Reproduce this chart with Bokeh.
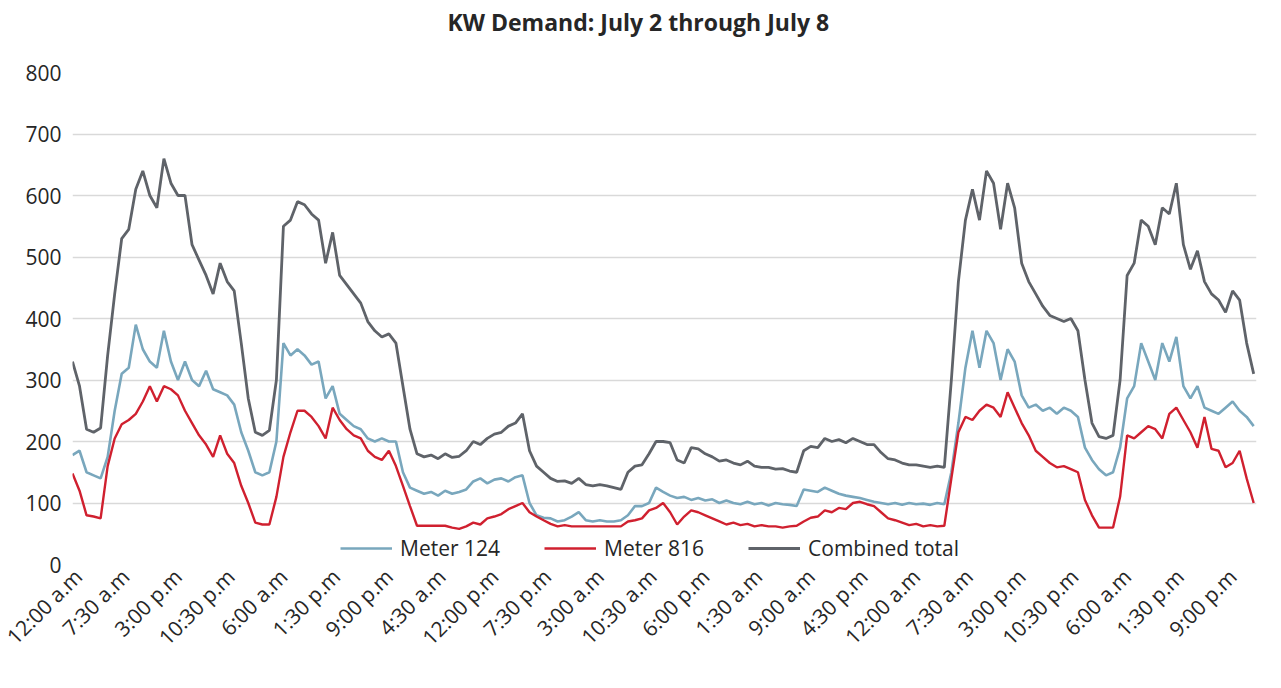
from math import pi
from bokeh.plotting import figure
from bokeh.models import Range1d, FixedTicker, Legend, LegendItem, ColumnDataSource
from bokeh.embed import file_html
from bokeh.resources import INLINE

# ---- data (hourly readings, hours since 12:00 a.m. July 2) ----
hours = list(range(169))

meter_124 = [
    178, 185, 150, 145, 140, 175, 250, 310, 320, 390, 350, 330,
    320, 380, 330, 300, 330, 300, 290, 315, 285, 280, 275, 260,
    215, 185, 150, 145, 150, 200, 360, 340, 350, 340, 325, 330,
    270, 290, 245, 235, 225, 220, 205, 200, 205, 200, 200, 150,
    125, 120, 115, 118, 112, 120, 115, 118, 122, 135, 140, 132,
    138, 140, 135, 142, 145, 100, 80, 76, 75, 70, 72, 78,
    85, 72, 70, 72, 70, 70, 72, 80, 95, 95, 100, 125,
    118, 112, 108, 110, 105, 108, 104, 106, 100, 104, 100, 98,
    102, 98, 100, 96, 100, 98, 97, 95, 122, 120, 118, 125,
    120, 115, 112, 110, 108, 105, 102, 100, 98, 100, 97, 100,
    98, 99, 97, 100, 98, 150, 230, 320, 380, 320, 380, 360,
    300, 350, 330, 275, 255, 260, 250, 255, 245, 255, 250, 240,
    190, 170, 155, 145, 150, 190, 270, 290, 360, 330, 300, 360,
    330, 370, 290, 270, 290, 255, 250, 245, 255, 265, 250, 240,
    225,
]

meter_816 = [
    148, 120, 80, 78, 75, 160, 205, 228, 235, 245, 265, 290,
    265, 290, 285, 275, 250, 230, 210, 195, 175, 210, 180, 165,
    128, 100, 68, 65, 65, 110, 175, 215, 250, 250, 240, 225,
    205, 255, 235, 220, 210, 205, 185, 175, 170, 185, 160, 128,
    95, 63, 63, 63, 63, 63, 60, 58, 62, 68, 65, 75,
    78, 82, 90, 95, 100, 85, 78, 72, 66, 62, 64, 62,
    62, 62, 62, 62, 62, 62, 62, 70, 72, 75, 88, 92,
    100, 85, 65, 78, 88, 85, 80, 75, 70, 65, 68, 64,
    66, 62, 64, 62, 62, 60, 62, 63, 70, 76, 78, 88,
    85, 92, 90, 100, 102, 98, 95, 85, 75, 72, 68, 64,
    66, 62, 64, 62, 63, 140, 215, 240, 235, 250, 260, 255,
    240, 280, 255, 230, 210, 185, 175, 165, 158, 160, 155, 150,
    105, 80, 60, 60, 60, 110, 210, 205, 215, 225, 220, 205,
    245, 255, 235, 215, 190, 240, 188, 185, 158, 165, 185, 140,
    100,
]

combined_total = [
    330, 290, 220, 215, 222, 340, 440, 530, 545, 610, 640, 600,
    580, 660, 620, 600, 600, 520, 495, 470, 440, 490, 460, 445,
    360, 270, 215, 210, 218, 300, 550, 560, 590, 585, 570, 560,
    490, 540, 470, 455, 440, 425, 395, 380, 370, 375, 360, 290,
    220, 180, 175, 178, 172, 180, 174, 176, 185, 200, 195, 205,
    212, 215, 225, 230, 245, 185, 160, 150, 140, 135, 136, 132,
    140, 130, 128, 130, 128, 125, 122, 150, 160, 162, 180, 200,
    200, 198, 170, 165, 190, 188, 180, 175, 168, 170, 165, 162,
    168, 160, 158, 158, 155, 156, 152, 150, 185, 192, 190, 205,
    200, 203, 198, 205, 200, 195, 195, 182, 172, 170, 165, 162,
    162, 160, 158, 160, 158, 300, 460, 560, 610, 560, 640, 620,
    545, 620, 580, 490, 460, 440, 420, 405, 400, 395, 400, 380,
    300, 230, 208, 205, 210, 300, 470, 490, 560, 550, 520, 580,
    570, 620, 520, 480, 510, 460, 440, 430, 410, 445, 430, 360,
    310,
]

tick_hours = [7.5 * k for k in range(23)]
tick_labels = [
    "12:00 a.m", "7:30 a.m", "3:00 p.m", "10:30 p.m", "6:00 a.m", "1:30 p.m",
    "9:00 p.m", "4:30 a.m", "12:00 p.m", "7:30 p.m", "3:00 a.m", "10:30 a.m",
    "6:00 p.m", "1:30 a.m", "9:00 a.m", "4:30 p.m", "12:00 a.m", "7:30 a.m",
    "3:00 p.m", "10:30 p.m", "6:00 a.m", "1:30 p.m", "9:00 p.m",
]
y_ticks = [0, 100, 200, 300, 400, 500, 600, 700, 800]

series_names = ["Meter 124", "Meter 816", "Combined total"]
series_colors = ["#79a7bd", "#d0202f", "#5f6369"]

FONT = "Open Sans"
TEXT = "#262626"

src = ColumnDataSource(dict(h=hours, m124=meter_124, m816=meter_816, comb=combined_total))

p = figure(frame_width=1184, frame_height=492, output_backend="svg", toolbar_location=None,
           x_range=Range1d(0, 168.4), y_range=Range1d(0, 800),
           min_border_left=72, min_border_right=16, min_border_top=72,
           min_border_bottom=0, title="KW Demand: July 2 through July 8\n")

p.title.text_font = FONT
p.title.text_font_size = "23px"
p.title.text_font_style = "bold"
p.title.text_color = TEXT
p.title.align = "left"
p.title.offset = 375
p.title.standoff = 6

p.outline_line_color = None
p.background_fill_color = "white"
p.border_fill_color = "white"

p.xgrid.grid_line_color = None
p.ygrid.grid_line_color = "#d9d9d9"
p.ygrid.grid_line_width = 1.3
p.ygrid.ticker = FixedTicker(ticks=y_ticks)

p.yaxis.ticker = FixedTicker(ticks=y_ticks)
p.yaxis.axis_line_color = None
p.yaxis.major_tick_line_color = None
p.yaxis.minor_tick_line_color = None
p.yaxis.major_tick_out = 0
p.yaxis.major_label_standoff = 11
p.yaxis.major_label_text_font = FONT
p.yaxis.major_label_text_font_size = "21px"
p.yaxis.major_label_text_color = TEXT

p.xaxis.ticker = FixedTicker(ticks=tick_hours)
p.xaxis.major_label_overrides = {t: lab for t, lab in zip(tick_hours, tick_labels)}
p.xaxis.major_label_orientation = pi / 4
p.xaxis.axis_line_color = None
p.xaxis.major_tick_line_color = None
p.xaxis.minor_tick_line_color = None
p.xaxis.major_tick_out = 0
p.xaxis.major_label_standoff = 8
p.xaxis.major_label_text_font = FONT
p.xaxis.major_label_text_font_size = "21px"
p.xaxis.major_label_text_color = TEXT

r1 = p.line("h", "m124", source=src, line_color=series_colors[0], line_width=2.6)
r2 = p.line("h", "m816", source=src, line_color=series_colors[1], line_width=2.4)
r3 = p.line("h", "comb", source=src, line_color=series_colors[2], line_width=2.8)

legend = Legend(items=[LegendItem(label=series_names[0], renderers=[r1]),
                       LegendItem(label=series_names[1], renderers=[r2]),
                       LegendItem(label=series_names[2], renderers=[r3])],
                orientation="horizontal", location=(268, 2),
                glyph_width=52, glyph_height=20, label_height=20,
                label_standoff=8, spacing=44,
                padding=0, margin=0, border_line_color=None, background_fill_alpha=0,
                label_text_font=FONT, label_text_font_size="21px", label_text_color=TEXT)
p.add_layout(legend, "center")

open("out.html", "w").write(file_html(p, INLINE))
